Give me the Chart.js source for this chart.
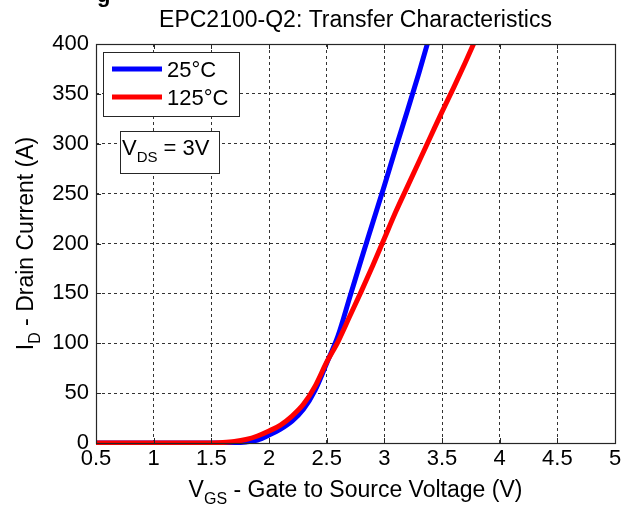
<!DOCTYPE html>
<html lang="en">
<head>
<meta charset="UTF-8">
<title>EPC2100-Q2: Transfer Characteristics</title>
<script src="https://cdn.jsdelivr.net/npm/chart.js"></script>
<style>
    html, body { margin: 0; padding: 0; background: #ffffff; }
    #wrap { width: 631px; height: 506px; }
</style>
</head>
<body>

<div id="wrap"><canvas id="myChart" width="631" height="506"></canvas></div>

<script>
// values
const vgs25 = [0.5, 1.0, 1.5, 1.7, 1.8, 1.9, 2.0, 2.1, 2.2, 2.3, 2.4, 2.5, 2.6, 2.7, 2.8, 2.9, 3.0, 3.1, 3.2, 3.3, 3.4];
const id25  = [0, 0, 0, 0.2, 1, 3, 8, 14, 22, 34, 53, 80, 108, 146, 184, 221, 258, 296, 333, 371, 411];

const vgs125 = [0.5, 1.0, 1.5, 1.6, 1.7, 1.8, 1.9, 2.0, 2.1, 2.2, 2.3, 2.4, 2.5, 2.6, 2.7, 2.8, 2.9, 3.0, 3.1, 3.2, 3.3, 3.4, 3.5, 3.6, 3.7, 3.8];
const id125  = [0, 0, 0, 0.5, 1.5, 3.5, 7, 12, 18, 27, 39, 57, 81, 102, 127, 152, 178, 205, 232, 257, 282, 307, 332, 356, 381, 407];

const xTicks = [0.5, 1, 1.5, 2, 2.5, 3, 3.5, 4, 4.5, 5];
const yTicks = [0, 50, 100, 150, 200, 250, 300, 350, 400];
const seriesLabels = ['25°C', '125°C'];

const FONT = '"Liberation Sans", Arial, sans-serif';
function font(size, bold) {
    return (bold ? 'bold ' : '') + size + 'px ' + FONT;
}

function toPoints(xs, ys) {
    return xs.map((x, i) => ({x: x, y: ys[i]}));
}

// text with a subscript part, e.g. V + DS
function subText(ctx, x, y, size, main, sub, rest) {
    ctx.font = font(size);
    ctx.fillText(main, x, y);
    x += ctx.measureText(main).width;
    ctx.font = font(Math.round(size * 0.68));
    ctx.fillText(sub, x, y + 7);
    x += ctx.measureText(sub).width;
    ctx.font = font(size);
    ctx.fillText(rest, x, y);
}
function subWidth(ctx, size, main, sub, rest) {
    ctx.font = font(size);
    let w = ctx.measureText(main).width + ctx.measureText(rest).width;
    ctx.font = font(Math.round(size * 0.68));
    return w + ctx.measureText(sub).width;
}

const decor = {
    id: 'decor',
    afterDraw: (chart) => {
        const {ctx, chartArea: a} = chart;
        const xs = chart.scales.x, ys = chart.scales.y;
        ctx.save();
        ctx.fillStyle = '#000';
        ctx.textAlign = 'left';
        ctx.textBaseline = 'alphabetic';

        // frame + inward ticks
        ctx.strokeStyle = '#262626';
        ctx.lineWidth = 1.2;
        ctx.strokeRect(a.left + 0.5, a.top + 0.5, a.right - a.left, a.bottom - a.top);
        ctx.lineWidth = 1;
        ctx.beginPath();
        xTicks.forEach(v => {
            const px = Math.round(xs.getPixelForValue(v)) + 0.5;
            ctx.moveTo(px, a.bottom); ctx.lineTo(px, a.bottom - 5);
            ctx.moveTo(px, a.top); ctx.lineTo(px, a.top + 5);
        });
        yTicks.forEach(v => {
            const py = Math.round(ys.getPixelForValue(v)) + 0.5;
            ctx.moveTo(a.left, py); ctx.lineTo(a.left + 5, py);
            ctx.moveTo(a.right, py); ctx.lineTo(a.right - 5, py);
        });
        ctx.stroke();

        // cut-off heading fragment above the plot
        ctx.font = font(22, true);
        ctx.fillText('g', 97, 2);

        // title
        ctx.font = font(23);
        ctx.textAlign = 'center';
        ctx.fillText('EPC2100-Q2: Transfer Characteristics', (a.left + a.right) / 2, 27);
        ctx.textAlign = 'left';

        // legend box
        ctx.fillStyle = '#fff';
        ctx.fillRect(103.5, 52.5, 136, 64);
        ctx.strokeStyle = '#262626';
        ctx.strokeRect(103.5, 52.5, 136, 64);
        chart.data.datasets.forEach((ds, i) => {
            const ly = 69 + i * 28;
            ctx.strokeStyle = ds.borderColor;
            ctx.lineWidth = 5;
            ctx.beginPath();
            ctx.moveTo(112, ly); ctx.lineTo(162, ly);
            ctx.stroke();
            ctx.fillStyle = '#000';
            ctx.font = font(22);
            ctx.fillText(ds.label, 167, ly + 8);
        });

        // V_DS note
        ctx.lineWidth = 1;
        ctx.fillStyle = '#fff';
        ctx.fillRect(120.5, 131.5, 99, 42);
        ctx.strokeStyle = '#262626';
        ctx.strokeRect(120.5, 131.5, 99, 42);
        ctx.fillStyle = '#000';
        subText(ctx, 122, 155, 22, 'V', 'DS', ' = 3V');

        // x axis title
        const xw = subWidth(ctx, 23, 'V', 'GS', ' - Gate to Source Voltage (V)');
        subText(ctx, (a.left + a.right) / 2 - xw / 2, 497, 23, 'V', 'GS', ' - Gate to Source Voltage (V)');

        // y axis title
        ctx.save();
        ctx.translate(33, (a.top + a.bottom) / 2);
        ctx.rotate(-Math.PI / 2);
        const yw = subWidth(ctx, 23, 'I', 'D', ' - Drain Current (A)');
        subText(ctx, -yw / 2, 0, 23, 'I', 'D', ' - Drain Current (A)');
        ctx.restore();

        ctx.restore();
    }
};

const ctx = document.getElementById('myChart').getContext('2d');

const chart = new Chart(ctx, {
    type: 'line',
    data: {
        datasets: [{
            label: seriesLabels[0],
            data: toPoints(vgs25, id25),
            borderColor: '#0000ff',
            backgroundColor: '#0000ff',
            order: 1
        }, {
            label: seriesLabels[1],
            data: toPoints(vgs125, id125),
            borderColor: '#ff0000',
            backgroundColor: '#ff0000',
            order: 0
        }]
    },
    options: {
        responsive: false,
        animation: false,
        layout: {
            padding: {top: 44, right: 16, bottom: 0, left: 0}
        },
        elements: {
            point: {radius: 0, hoverRadius: 0},
            line: {borderWidth: 5, cubicInterpolationMode: 'monotone', fill: false}
        },
        datasets: {
            line: {clip: {left: 0, top: 0, right: 0, bottom: 2}}
        },
        plugins: {
            legend: {display: false},
            tooltip: {enabled: false}
        },
        scales: {
            x: {
                type: 'linear',
                min: 0.5,
                max: 5,
                afterBuildTicks: (scale) => { scale.ticks = xTicks.map(v => ({value: v})); },
                afterFit: (scale) => {
                    scale.height = 63;
                    scale.paddingLeft = 0; scale.paddingRight = 0;
                },
                ticks: {
                    color: '#000',
                    font: {family: FONT, size: 22},
                    padding: 3,
                    maxRotation: 0,
                    autoSkip: false,
                    callback: (v) => String(v)
                },
                grid: {color: '#333', lineWidth: 1, drawTicks: false},
                border: {display: false, dash: [3, 3]}
            },
            y: {
                min: 0,
                max: 400,
                afterBuildTicks: (scale) => { scale.ticks = yTicks.map(v => ({value: v})); },
                afterFit: (scale) => {
                    scale.width = 96;
                    scale.paddingTop = 0; scale.paddingBottom = 0;
                },
                ticks: {
                    color: '#000',
                    font: {family: FONT, size: 22},
                    padding: 7,
                    autoSkip: false
                },
                grid: {color: '#333', lineWidth: 1, drawTicks: false},
                border: {display: false, dash: [3, 3]}
            }
        }
    },
    plugins: [decor]
});
</script>

</body>
</html>
